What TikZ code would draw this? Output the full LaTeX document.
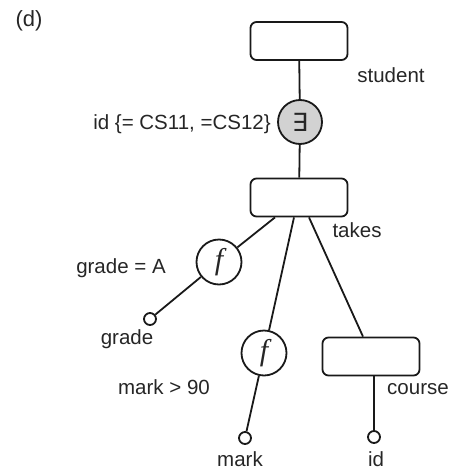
\documentclass[tikz,border=0pt]{standalone}
\usepackage{fontspec}
\setmainfont{Liberation Sans}
\newfontfamily\quantfont{DejaVu Sans}
\newfontfamily\filtfont{Liberation Serif}
\begin{document}
\begin{tikzpicture}[x=1pt,y=-1pt,
  every node/.style={font=\fontsize{20.5}{24}\selectfont, text=black!85},
  entity/.style={draw=black!90, rounded corners=6pt, minimum width=97pt,
    minimum height=38pt, inner sep=0pt, line width=1.8pt},
  quant/.style={draw=black!90, circle, minimum size=44pt, inner sep=0pt,
    line width=1.8pt, fill=gray!35, font=\quantfont\fontsize{25}{25}\selectfont},
  filt/.style={draw=black!90, circle, minimum size=45pt, inner sep=0pt,
    line width=1.8pt, fill=white,
    font=\filtfont\itshape\fontsize{30}{30}\selectfont},
  attr/.style={draw=black!90, circle, minimum size=12pt, inner sep=0pt,
    line width=1.8pt, fill=white},
  edge/.style={draw=black!90, line width=1.8pt},
  lbl/.style={inner sep=0pt, anchor=center}]
\useasboundingbox (0,0) rectangle (452,471);

% panel tag
\node[lbl, font=\fontsize{22}{24}\selectfont] (tag) at (29,21) {(d)};

% entity and relationship boxes
\node[entity] (student) at (299,41) {};
\node[entity] (takes) at (299,197.5) {};
\node[entity] (course) at (371,356.5) {};

% existential quantifier
\node[quant] (ex) at (300,122) {∃};

% filters
\node[filt] (fg) at (219,262) {f};
\node[filt] (fm) at (264,353) {f};

% attribute ends
\node[attr] (gdot) at (150,319) {};
\node[attr] (mdot) at (245,438) {};
\node[attr] (idot) at (374,437) {};

% connectors
\draw[edge] (student) -- (ex);
\draw[edge] (ex) -- (takes);
\draw[edge] ([xshift=-24pt]takes.south) -- (fg);
\draw[edge] (fg) -- (gdot);
\draw[edge] ([xshift=-5pt]takes.south) -- (fm);
\draw[edge] (fm) -- (mdot);
\draw[edge] ([xshift=10pt]takes.south) -- ([xshift=-8pt]course.north);
\draw[edge] ([xshift=3pt]course.south) -- (idot);

% labels
\node[lbl] (lstudent) at (391,75) {student};
\node[lbl] (lid) at (182,124) {id \{= CS11, =CS12\}};
\node[lbl] (ltakes) at (357,230) {takes};
\node[lbl] (lgradeA) at (121,268) {grade = A};
\node[lbl] (lgrade) at (127,339) {grade};
\node[lbl] (lmark90) at (164,387) {mark > 90};
\node[lbl] (lcourse) at (418,389) {course};
\node[lbl] (lmark) at (240,459) {mark};
\node[lbl] (lid2) at (376,459) {id};
\end{tikzpicture}
\end{document}
